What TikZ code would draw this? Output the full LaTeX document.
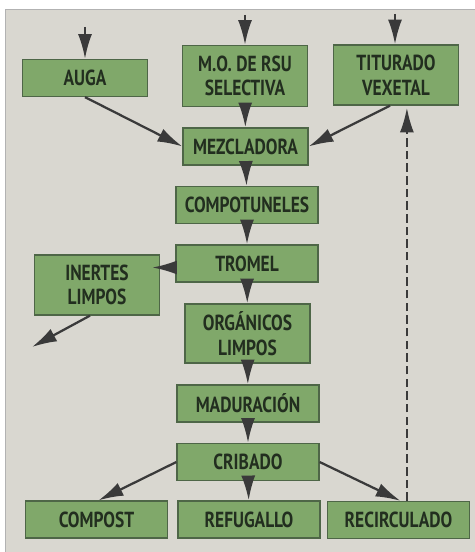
\documentclass[tikz,border=0pt]{standalone}
\usepackage{fontspec}
\setmainfont{PT Sans}[FakeStretch=0.8]
\usepackage{tikz}
\usetikzlibrary{arrows.meta}
\definecolor{panelgray}{HTML}{D9D7D0}
\definecolor{boxgreen}{HTML}{80A86A}
\definecolor{boxline}{HTML}{4E6647}
\definecolor{boxtext}{HTML}{222E1F}
\definecolor{arrowgray}{HTML}{3A3A3A}
\tikzstyle{proc node} = [rectangle,draw=boxline,fill=boxgreen,line width=0.9pt,
                         text=boxtext,font=\bfseries\fontsize{15.5}{17.5}\selectfont,
                         align=center,minimum width=3.125cm,minimum height=0.925cm,inner sep=1pt]
\tikzstyle{wide node}  = [proc node,minimum width=3.55cm]
\tikzstyle{tall node}  = [proc node,minimum height=1.5cm]

\begin{document}
\begin{tikzpicture}[arrow/.style={draw=arrowgray,line width=1.6pt,-{Latex[length=6.2mm,width=3.5mm]}},
                    dash arrow/.style={arrow,dash pattern=on 6pt off 3pt}
                    ]
\useasboundingbox (0,0) rectangle (11.875,13.8);
\fill[white] (0,0) rectangle (11.875,13.8);
\fill[panelgray] (0.125,0) rectangle (11.875,13.575);
\draw[gray!60,line width=0.6pt] (0.125,0) -- (0.125,13.575) -- (11.875,13.575);

    % entradas
    \node(auga)[proc node] at (2.125,11.85) {AUGA};
    \node(mo)[tall node, minimum height=1.525cm] at (6.125,11.9) {M.O. DE RSU\\SELECTIVA};
    \node(tit)[tall node] at (9.9,11.925) {TITURADO\\VEXETAL};

    % liña central
    \node(mez)[proc node] at (6.1375,10.1375) {MEZCLADORA};
    \node(compo)[wide node] at (6.175,8.675) {COMPOTUNELES};
    \node(trom)[wide node] at (6.175,7.2125) {TROMEL};
    \node(inert)[tall node] at (2.425,6.675) {INERTES\\LIMPOS};
    \node(org)[tall node, minimum height=1.475cm] at (6.1875,5.4625) {ORGÁNICOS\\LIMPOS};
    \node(madu)[wide node] at (6.2,3.7125) {MADURACIÓN};
    \node(crib)[wide node] at (6.2,2.25) {CRIBADO};

    % saídas
    \node(comp)[wide node] at (2.4125,0.8125) {COMPOST};
    \node(refu)[wide node] at (6.225,0.8125) {REFUGALLO};
    \node(recir)[wide node] at (9.9625,0.8) {RECIRCULADO};

    \coordinate(in1) at (2.125,13.125);
    \coordinate(in2) at (6.125,13.425);
    \coordinate(in3) at (9.875,13.45);
    \coordinate(out1) at (0.8,5.125);
    \coordinate(tw) at ([yshift=-0.1cm]trom.west);
    \coordinate(rc) at ([xshift=0.21cm]recir.north);

    \draw[arrow] (in1) -- (auga);
    \draw[arrow] (in2) -- (mo);
    \draw[arrow] (in3) -- (tit.north -| in3);
    \draw[arrow] (auga.south) -- (mez.west);
    \draw[arrow] (mo) -- (mez);
    \draw[arrow] ([xshift=-0.15cm]tit.south) -- (mez.east);
    \draw[arrow] (mez) -- (compo);
    \draw[arrow] (compo) -- (trom);
    \draw[arrow] (tw) -- ([xshift=-0.2cm]tw -| inert.east);
    \draw[arrow] ([xshift=-0.175cm]inert.south) -- (out1);
    \draw[arrow] (trom) -- (org);
    \draw[arrow] (org) -- (madu);
    \draw[arrow] (madu) -- (crib);
    \draw[arrow] (crib) -- (refu);
    \draw[arrow] (crib.west) -- ([xshift=0.05cm]comp.north);
    \draw[arrow] (crib.east) -- ([xshift=0.05cm]recir.north);
    \draw[dash arrow] (rc) -- ([yshift=-0.05cm]rc |- tit.south);

\end{tikzpicture}
\end{document}
